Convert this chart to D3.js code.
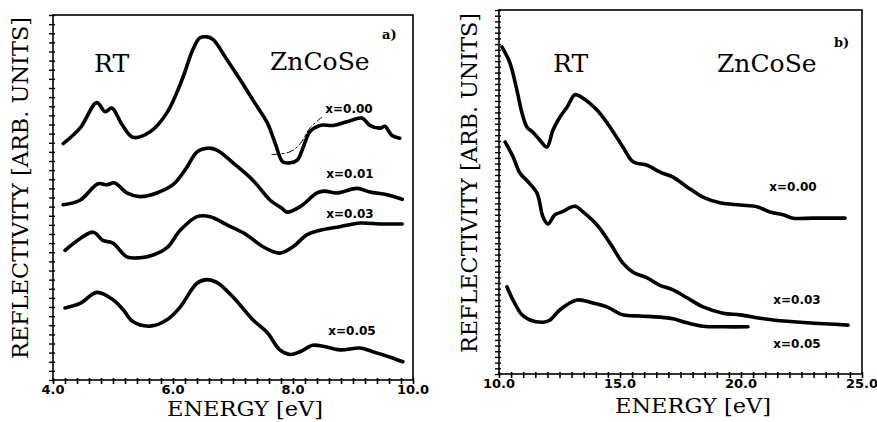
<!DOCTYPE html>
<html><head><meta charset="utf-8">
<script src="https://cdn.jsdelivr.net/npm/d3@7"></script>
<style>body{margin:0;background:#fff}svg{display:block}</style>
</head><body><svg id="c" width="877" height="422"></svg>
<script>
// ---- Panel a (4–10 eV) ----
const eA000 = [4.17,4.45,4.73,4.87,4.98,5.15,5.33,5.62,5.9,6.15,6.33,6.45,6.57,6.67,6.9,7.12,7.33,7.57,7.7,7.83,7.95,8.07,8.17,8.28,8.45,8.67,8.9,9.15,9.28,9.45,9.53,9.65,9.78];
const rA000 = [25.9,27.6,30.4,29.4,29.8,28.0,26.6,27.2,29.3,32.9,36.2,37.5,37.6,37.3,35.1,32.9,30.7,28.2,26.0,23.9,23.8,24.1,25.5,27.2,27.9,27.9,28.3,28.7,27.9,27.6,27.8,26.8,26.5];
const eA000dash = [7.65,7.95,8.12,8.28,8.48];
const rA000dash = [24.7,25.0,25.9,27.6,28.8];
const eA001 = [4.17,4.45,4.75,4.9,5.03,5.23,5.45,5.73,6.0,6.23,6.4,6.57,6.73,7.0,7.33,7.62,7.82,7.9,8.12,8.4,8.53,8.73,9.07,9.28,9.57,9.82];
const rA001 = [19.2,19.7,21.5,21.4,21.6,20.5,20.1,20.5,21.4,23.3,25.0,25.4,25.2,23.8,21.9,19.7,18.8,18.4,19.0,20.5,20.7,20.5,21.0,20.6,20.3,19.8];
const eA003 = [4.2,4.67,4.83,5.0,5.23,5.45,5.67,5.9,6.12,6.4,6.62,6.9,7.23,7.5,7.78,8.0,8.23,8.45,8.78,9.12,9.45,9.82];
const rA003 = [14.2,16.2,15.3,15.0,13.5,13.4,13.7,14.5,16.4,17.9,17.9,17.0,15.9,14.6,13.9,14.6,15.9,16.4,16.8,17.2,17.1,17.1];
const eA005 = [4.2,4.45,4.73,5.0,5.17,5.33,5.62,5.9,6.12,6.4,6.57,6.73,7.0,7.33,7.57,7.78,7.95,8.12,8.33,8.5,8.78,9.12,9.33,9.62,9.83];
const rA005 = [7.9,8.4,9.6,8.8,7.7,6.4,5.9,6.6,8.0,10.6,11.0,10.7,9.1,6.6,5.2,3.3,2.8,3.1,3.8,3.7,3.3,3.5,3.1,2.5,2.0];
const ticksA = [4,6,8,10];
const ticksALabels = ["4.0","6.0","8.0","10.0"];

// ---- Panel b (10–25 eV) ----
const eB000 = [10.12,10.45,10.74,10.95,11.16,11.4,11.69,11.98,12.23,12.52,12.81,13.14,13.47,14.05,14.59,15.12,15.54,16.12,16.65,17.19,17.77,18.43,19.13,19.96,20.66,21.2,21.74,22.15,22.98,24.3];
const rB000 = [57.5,54.7,49.9,45.9,43.4,42.5,41.1,39.9,42.9,45.2,46.9,49.1,48.5,46.4,43.4,39.9,37.3,36.7,35.5,34.6,32.9,31.1,30.1,29.7,29.4,28.5,28.0,27.4,27.4,27.4];
const eB003 = [10.25,10.58,10.87,11.2,11.57,11.82,12.02,12.31,12.6,13.14,13.47,14.05,14.59,15.12,15.54,16.12,16.65,17.19,17.77,18.43,19.26,19.96,20.79,21.32,22.73,24.42];
const rB003 = [40.8,38.2,35.3,33.8,31.8,27.6,26.4,28.0,28.5,29.5,28.5,26.2,23.0,19.5,17.9,16.9,15.6,14.8,13.4,11.8,10.7,10.4,9.8,9.5,9.0,8.6];
const eB005 = [10.33,10.58,10.95,11.28,11.82,12.11,12.52,13.22,13.88,14.46,15.12,15.83,16.65,17.19,17.77,18.43,19.26,20.29];
const rB005 = [15.3,13.0,10.4,9.5,9.1,9.5,11.3,13.0,12.5,11.8,10.4,10.2,10.0,9.7,9.0,8.4,8.3,8.3];
const ticksB = [10,15,20,25];
const ticksBLabels = ["10.0","15.0","20.0","25.0"];

const seriesLabels = ["x=0.00","x=0.01","x=0.03","x=0.05"];

const svg = d3.select("#c");
const serif = "DejaVu Serif, Liberation Serif, serif";
const sans = "DejaVu Sans, Liberation Sans, sans-serif";

function panel(cfg){
  const g = svg.append("g");
  const x = d3.scaleLinear().domain(cfg.xd).range(cfg.xr);
  const y = d3.scaleLinear().domain(cfg.yd).range(cfg.yr);
  g.append("rect").attr("x",cfg.xr[0]).attr("y",cfg.yr[1]).attr("width",cfg.xr[1]-cfg.xr[0]).attr("height",cfg.yr[0]-cfg.yr[1])
    .attr("fill","none").attr("stroke","#000").attr("stroke-width",1.6);
  const bx = g.append("g").attr("transform",`translate(0,${cfg.yr[0]})`)
    .call(d3.axisBottom(x).tickValues(d3.range(cfg.xd[0],cfg.xd[1]+1e-9,cfg.xminor)).tickFormat("").tickSizeOuter(0));
  bx.select(".domain").remove();
  bx.selectAll(".tick line").attr("y1",-2).attr("y2",4).attr("stroke-width",1.6);
  g.selectAll(".tl").data(cfg.ticks).join("text")
    .attr("x",(d)=>x(d)).attr("y",cfg.yr[0]+cfg.labOff)
    .attr("text-anchor","middle").attr("font-family",sans).attr("font-weight","bold").attr("font-size",13)
    .text((d,i)=>cfg.tickLabels[i]);
  const ly = g.append("g").attr("transform",`translate(${cfg.xr[0]},0)`)
    .call(d3.axisLeft(y).tickValues(d3.range(cfg.yd[0],cfg.yd[1]+1e-9,1)).tickFormat("").tickSizeOuter(0));
  ly.select(".domain").remove();
  ly.selectAll(".tick line").attr("x1",-4).attr("x2",2).attr("stroke-width",1.4);
  const line = d3.line().x(d=>x(d[0])).y(d=>y(d[1])).curve(d3.curveCatmullRom.alpha(0.5));
  cfg.series.forEach(s=>{
    const pts = s.e.map((e,i)=>[e,s.r[i]]);
    g.append("path").attr("d",line(pts)).attr("fill","none").attr("stroke","#000")
      .attr("stroke-width",s.w||3.6).attr("stroke-linecap","round").attr("stroke-linejoin","round")
      .attr("stroke-dasharray",s.dash||null);
  });
  cfg.labels.forEach(l=>{
    g.append("text").attr("x",l.x).attr("y",l.y).attr("text-anchor","middle")
      .attr("font-family",sans).attr("font-weight","bold").attr("font-size",12).text(l.t);
  });
  g.append("text").attr("x",cfg.rtX).attr("y",72).attr("font-family",serif).attr("font-size",25).text("RT");
  g.append("text").attr("x",cfg.znX).attr("y",cfg.znY).attr("font-family",serif).attr("font-size",25).text("ZnCoSe");
  g.append("text").attr("x",cfg.tagX).attr("y",cfg.tagY).attr("font-family",serif).attr("font-weight","bold").attr("font-size",13).text(cfg.tag);
  g.append("text").attr("x",cfg.exX).attr("y",cfg.exY).attr("text-anchor","middle").attr("font-family",serif).attr("font-size",20)
    .attr("textLength",156).attr("lengthAdjust","spacingAndGlyphs").text("ENERGY  [eV]");
  g.append("text").attr("transform",`translate(${cfg.yLabX},${cfg.yLabY}) rotate(-90)`).attr("text-anchor","middle")
    .attr("font-family",serif).attr("font-size",22).attr("textLength",cfg.yLabLen).attr("lengthAdjust","spacingAndGlyphs")
    .text("REFLECTIVITY  [ARB. UNITS]");
  return {x,y,g};
}

panel({
  xd:[4,10], xr:[53,413], yd:[0,40], yr:[380,15], xminor:0.2, ticks:ticksA, tickLabels:ticksALabels, labOff:14,
  series:[
    {e:eA000,r:rA000},{e:eA000dash,r:rA000dash,w:1,dash:"7,3,2,3"},
    {e:eA001,r:rA001},{e:eA003,r:rA003},{e:eA005,r:rA005}
  ],
  labels:[{x:349,y:113,t:seriesLabels[0]},{x:350,y:178,t:seriesLabels[1]},{x:350,y:218,t:seriesLabels[2]},{x:352,y:335,t:seriesLabels[3]}],
  rtX:94, znX:270, znY:70, tag:"a)", tagX:382, tagY:39, exX:245, exY:416, yLabX:28, yLabY:188, yLabLen:342
});
panel({
  xd:[10,25], xr:[499,862], yd:[0,64], yr:[374,10], xminor:0.5, ticks:ticksB, tickLabels:ticksBLabels, labOff:14,
  series:[{e:eB000,r:rB000},{e:eB003,r:rB003},{e:eB005,r:rB005}],
  labels:[{x:793,y:191,t:seriesLabels[0]},{x:797,y:304,t:seriesLabels[2]},{x:797,y:348,t:seriesLabels[3]}],
  rtX:553, znX:717, znY:72, tag:"b)", tagX:834, tagY:47, exX:693, exY:413, yLabX:477, yLabY:183, yLabLen:340
});
</script></body></html>
